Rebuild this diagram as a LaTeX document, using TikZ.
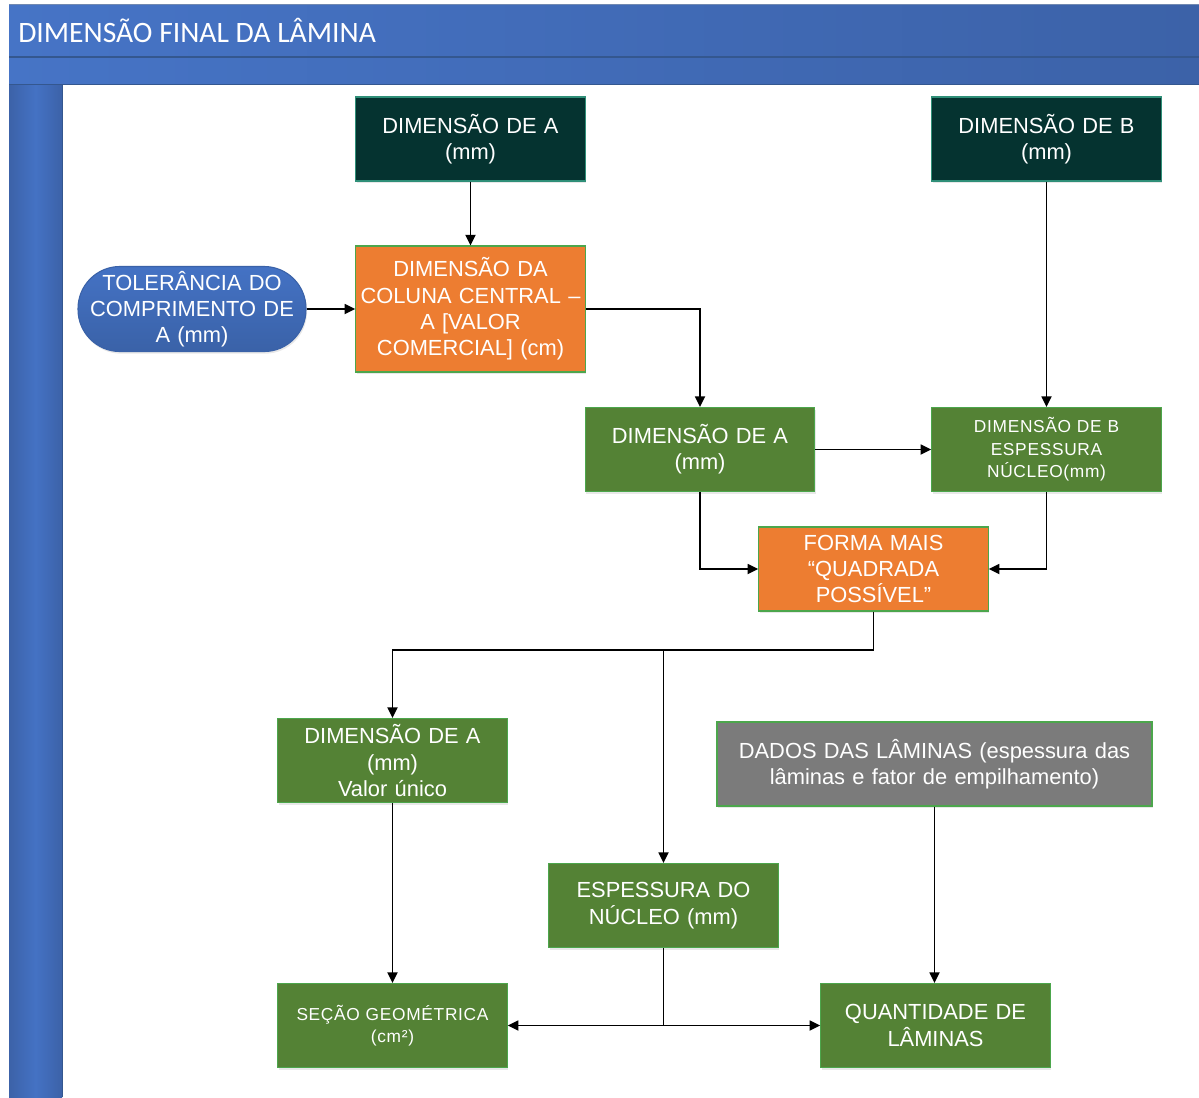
\documentclass[tikz,border=0pt]{standalone}
\usepackage{fontspec}
\setmainfont{Liberation Sans}
\newfontfamily\titlefont{Carlito}
\usetikzlibrary{arrows.meta,shadows,calc}

\definecolor{hdrL}{HTML}{4674C6}
\definecolor{hdrR}{HTML}{3C62A8}
\definecolor{hdrLine}{HTML}{34578F}
\definecolor{tealbox}{HTML}{053330}
\definecolor{tealedge}{HTML}{2F8F78}
\definecolor{orangebox}{HTML}{ED7D31}
\definecolor{greenbox}{HTML}{548235}
\definecolor{greenedge}{HTML}{4CA64C}
\definecolor{graybox}{HTML}{7B7B7B}
\definecolor{bluebox}{HTML}{4472C4}
\definecolor{blueedge}{HTML}{3A62A8}

\tikzset{
  box/.style={rectangle, minimum width=171.75pt, minimum height=63pt,
    text width=172pt, align=center, text=white, line width=0.8pt, inner xsep=0pt,
    font=\fontsize{16.4}{19.7}\selectfont,
    drop shadow={opacity=0.18, shadow xshift=0.8pt, shadow yshift=-1.6pt}},
  tealnode/.style={box, fill=tealbox, draw=tealedge},
  orangenode/.style={box, fill=orangebox, draw=greenedge},
  greennode/.style={box, fill=greenbox, draw=greenedge},
  graynode/.style={box, fill=graybox, draw=greenedge},
  smalltext/.style={font=\fontsize{13}{16.9}\selectfont\addfontfeature{LetterSpace=4}},
  pill/.style={rectangle, rounded corners=31.5pt, minimum width=171pt,
    minimum height=63.75pt, text width=166pt, align=center, text=white, inner xsep=0pt,
    top color=bluebox, bottom color=blueedge, draw=blueedge, line width=0.8pt,
    font=\fontsize{16.4}{19.7}\selectfont,
    drop shadow={opacity=0.18, shadow xshift=0.8pt, shadow yshift=-1.6pt}},
  arr/.style={draw=black, line width=1.35pt, -{Triangle[length=8pt,width=7.5pt]}},
  link/.style={draw=black, line width=1.35pt}
}

\begin{document}
\begin{tikzpicture}[x=0.75pt,y=-0.75pt]
\useasboundingbox (0,0) rectangle (1199,1097);
\fill[white] (0,0) rectangle (1199,1097);

% swimlane frame: title band, sub band, left column
\shade[left color=hdrL, right color=hdrR] (9,4) rectangle (1199,57);
\shade[left color=hdrL, right color=hdrR] (9,57) rectangle (1199,84);
\draw[hdrLine, line width=0.8pt] (9,57) -- (1199,57);
\draw[hdrLine!70, line width=0.6pt] (9,4) -- (1199,4);
\shade[left color=hdrR, right color=hdrR, middle color=bluebox] (9,84) rectangle (62,1097);
\draw[hdrLine, line width=0.6pt] (9,84) -- (1199,84);
\draw[hdrLine, line width=0.6pt] (62,84) -- (62,1097);
\node[anchor=west, text=white, font=\titlefont\fontsize{22.2}{26}\selectfont, inner sep=0pt]
  (title) at (18,30.5) {DIMENSÃO FINAL DA LÂMINA};

% nodes
\node[tealnode] (dimAtop) at (470.5,139) {DIMENSÃO DE A\\(mm)};
\node[tealnode] (dimBtop) at (1046.5,139) {DIMENSÃO DE B\\(mm)};
\node[orangenode, minimum height=94.5pt] (coluna) at (470.5,309)
  {DIMENSÃO DA\\COLUNA CENTRAL --\\A [VALOR\\COMERCIAL] (cm)};
\node[pill] (tol) at (192,309) {TOLERÂNCIA DO\\COMPRIMENTO DE\\A (mm)};
\node[greennode] (dimA2) at (700,449.5) {DIMENSÃO DE A\\(mm)};
\node[greennode, smalltext] (dimB2) at (1046.5,449.5) {DIMENSÃO DE B\\ESPESSURA\\NÚCLEO(mm)};
\node[orangenode] (forma) at (873.5,569) {FORMA MAIS\\“QUADRADA\\POSSÍVEL”};
\node[greennode] (dimA3) at (392.5,760.5) {DIMENSÃO DE A\\(mm)\\Valor único};
\node[graynode, minimum width=326.25pt, text width=326pt] (dados) at (934.5,764)
  {DADOS DAS LÂMINAS (espessura das\\lâminas e fator de empilhamento)};
\node[greennode] (esp) at (663.5,905.5) {ESPESSURA DO\\NÚCLEO (mm)};
\node[greennode, smalltext] (secao) at (392.5,1025.5)
  {SEÇÃO GEOMÉTRICA\\(cm²)};
\node[greennode] (qtd) at (935.5,1025.5) {QUANTIDADE DE\\LÂMINAS};

% connectors
\coordinate (bus) at (0,650);
\draw[arr] (dimAtop) -- (coluna);
\draw[arr] (tol.east) -- (tol.east -| coluna.west);
\draw[arr] (coluna.east) -| (dimA2.north);
\draw[arr] (dimBtop) -- (dimB2);
\draw[arr] (dimA2) -- (dimB2);
\draw[arr] (dimA2.south) |- (forma.west);
\draw[arr] (dimB2.south) |- (forma.east);
\draw[arr] (forma.south) -- (forma.south |- bus) -| (dimA3.north);
\draw[arr] (esp.north |- bus) -- (esp.north);
\draw[arr] (dimA3) -- (secao);
\draw[arr] (dados.south) -- (dados.south |- qtd.north);
\coordinate (tee) at (esp.south |- secao.east);
\draw[link] (esp.south) -- (tee);
\draw[arr] (tee) -- (secao.east);
\draw[arr] (tee) -- (qtd.west);
\end{tikzpicture}
\end{document}
